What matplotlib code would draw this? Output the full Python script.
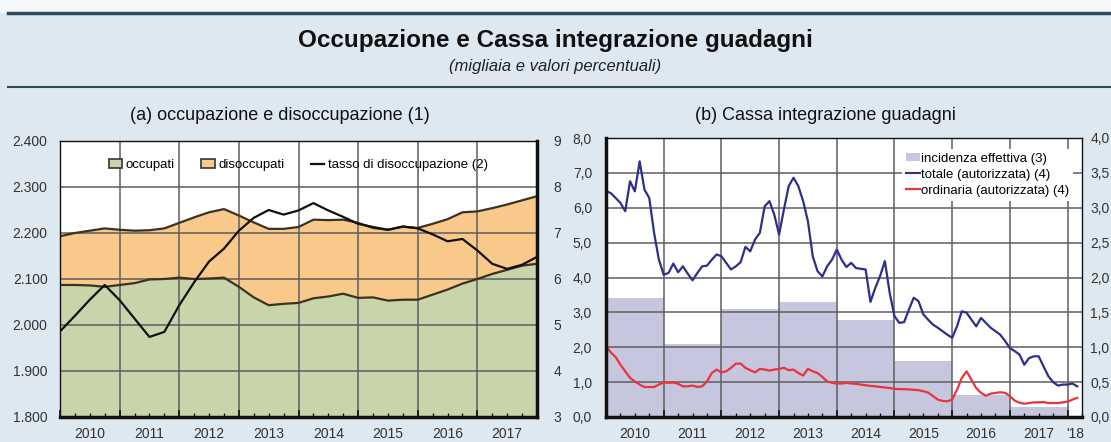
import numpy as np
import matplotlib
matplotlib.use('Agg')
import matplotlib.pyplot as plt
from matplotlib.patches import Patch, Rectangle
from matplotlib.lines import Line2D

plt.rcParams['font.family'] = ['Liberation Sans', 'DejaVu Sans']

# (a) quarterly, Q4 2009 .. Q4 2017 (thousands / %)
occupati = [2087, 2087, 2086, 2083, 2087, 2091, 2099, 2100, 2103, 2100, 2101,
            2103, 2083, 2060, 2043, 2046, 2048, 2058, 2062, 2068, 2059, 2060,
            2053, 2055, 2055, 2066, 2077, 2090, 2100, 2111, 2120, 2129, 2133]
disoccupati = [106, 113, 119, 127, 120, 114, 107, 110, 119, 134, 144, 149,
               155, 163, 166, 163, 165, 171, 166, 161, 163, 151, 154, 159,
               156, 154, 153, 155, 147, 143, 142, 142, 147]
tasso = [4.86, 5.2, 5.55, 5.87, 5.54, 5.14, 4.74, 4.85, 5.43, 5.93, 6.38,
         6.66, 7.05, 7.33, 7.5, 7.4, 7.49, 7.65, 7.49, 7.35, 7.2, 7.13, 7.07,
         7.14, 7.1, 6.97, 6.82, 6.87, 6.62, 6.33, 6.22, 6.31, 6.48]

# (b) monthly, Jan 2010 .. Mar 2018
totale = [6.48, 6.42, 6.28, 6.14, 5.9, 6.76, 6.47, 7.33, 6.52, 6.28,
          5.28, 4.51, 4.08, 4.13, 4.4, 4.15, 4.32, 4.11, 3.92, 4.13,
          4.32, 4.34, 4.51, 4.66, 4.61, 4.42, 4.23, 4.32, 4.44, 4.88,
          4.75, 5.09, 5.28, 6.04, 6.19, 5.8, 5.23, 5.95, 6.62, 6.86,
          6.62, 6.19, 5.61, 4.61, 4.18, 4.03, 4.32, 4.51, 4.8, 4.51,
          4.3, 4.42, 4.27, 4.25, 4.23, 3.3, 3.7, 4.04, 4.47, 3.56,
          2.89, 2.7, 2.72, 3.08, 3.42, 3.32, 2.94, 2.79, 2.65, 2.56,
          2.46, 2.36, 2.27, 2.6, 3.03, 2.99, 2.79, 2.6, 2.84, 2.7,
          2.56, 2.46, 2.36, 2.18, 1.98, 1.89, 1.79, 1.5, 1.69, 1.74,
          1.74, 1.45, 1.17, 1.0, 0.9, 0.93, 0.93, 0.96, 0.88]
ordinaria = [2.03, 1.85, 1.72, 1.5, 1.31, 1.12, 1.02, 0.93, 0.86, 0.86,
             0.86, 0.93, 0.99, 0.98, 0.99, 0.95, 0.88, 0.88, 0.9, 0.86,
             0.88, 1.02, 1.26, 1.36, 1.28, 1.31, 1.41, 1.53, 1.53, 1.41,
             1.34, 1.28, 1.38, 1.36, 1.33, 1.36, 1.38, 1.41, 1.34, 1.36,
             1.26, 1.19, 1.38, 1.31, 1.26, 1.15, 1.02, 0.98, 0.96, 0.96,
             0.98, 0.96, 0.95, 0.93, 0.91, 0.89, 0.88, 0.86, 0.85, 0.83,
             0.81, 0.8, 0.8, 0.79, 0.78, 0.77, 0.74, 0.7, 0.6, 0.5,
             0.46, 0.45, 0.5, 0.78, 1.12, 1.31, 1.07, 0.83, 0.69, 0.61,
             0.67, 0.69, 0.71, 0.69, 0.6, 0.47, 0.41, 0.38, 0.4, 0.42,
             0.42, 0.43, 0.4, 0.4, 0.4, 0.42, 0.44, 0.5, 0.55]
anni_barre = [2010, 2011, 2012, 2013, 2014, 2015, 2016, 2017]
incidenza = [1.71, 1.05, 1.55, 1.65, 1.39, 0.8, 0.32, 0.14]

yl_a = ['1.800', '1.900', '2.000', '2.100', '2.200', '2.300', '2.400']
yr_a = ['3', '4', '5', '6', '7', '8', '9']
yl_b = ['0,0', '1,0', '2,0', '3,0', '4,0', '5,0', '6,0', '7,0', '8,0']
yr_b = ['0,0', '0,5', '1,0', '1,5', '2,0', '2,5', '3,0', '3,5', '4,0']
xl_a = ['2010', '2011', '2012', '2013', '2014', '2015', '2016', '2017']
xl_b = ['2010', '2011', '2012', '2013', '2014', '2015', '2016', '2017', "'18"]

BG = '#dde8f1'
GREEN = '#c8d5aa'
ORANGE = '#f8c98b'
EDGE = '#3b3222'
LAV = '#c6c6de'
BLUE = '#2e2e8c'
RED = '#e8343f'
GRID = '#5e5e5e'
TXT = '#333333'
W, H = 1111, 442

quarters = 2010 + np.arange(len(occupati)) * 0.25
months = 2010 + np.arange(len(totale)) / 12
occ = np.array(occupati)
top = occ + np.array(disoccupati)

fig = plt.figure(figsize=(W / 100, H / 100), dpi=100)
fig.patch.set_facecolor(BG)
fig.add_artist(Rectangle((0, 1 - 12 / H), 1, 12 / H, transform=fig.transFigure,
                         color='#f6f9fb', zorder=0))
fig.add_artist(Line2D([8 / W, 1], [1 - 13 / H] * 2, color='#2f4c5e', lw=2.5))
fig.add_artist(Line2D([8 / W, 1], [1 - 87 / H] * 2, color='#2f4c5e', lw=1.5))
fig.text(0.5, 1 - 40 / H, 'Occupazione e Cassa integrazione guadagni',
         ha='center', va='center', fontsize=17.5, fontweight='bold', color='#111')
fig.text(0.5, 1 - 66 / H, '(migliaia e valori percentuali)', ha='center',
         va='center', fontsize=12, style='italic', color='#222')


def style_x(ax, xmax, labels, pos):
    ax.set_xlim(2010, xmax)
    ax.set_xticks(range(2010, 2019))
    ax.set_xticks(np.arange(2010, xmax + 0.01, 0.25), minor=True)
    ax.tick_params(axis='x', which='both', direction='in', labelbottom=False,
                   color='#111')
    ax.tick_params(axis='x', which='major', length=5, width=1.2)
    ax.tick_params(axis='x', which='minor', length=3, width=1)
    sec = ax.secondary_xaxis('bottom')
    sec.set_xticks(pos, labels=labels)
    sec.tick_params(length=0, pad=7, labelsize=10, labelcolor=TXT)
    sec.spines['bottom'].set_visible(False)


# ---- (a) occupazione e disoccupazione
ax1 = fig.add_axes([60 / W, 25 / H, 477 / W, 276 / H])
ax1.set_facecolor('white')
ax1.fill_between(quarters, 1800, occ, color=GREEN, lw=0)
ax1.fill_between(quarters, occ, top, color=ORANGE, lw=0)
ax1.plot(quarters, occ, color=EDGE, lw=1.6)
ax1.plot(quarters, top, color=EDGE, lw=1.6)
ax1.set_ylim(1800, 2400)
ax1.set_yticks(np.arange(1800, 2401, 100), labels=yl_a)
ax1.tick_params(axis='y', length=0, pad=9, labelsize=10, labelcolor=TXT)
ax1.grid(True, color=GRID, lw=1.1)
style_x(ax1, 2018, xl_a, np.arange(2010, 2018) + 0.5)
for s, lw in [('bottom', 2.5), ('right', 2.5), ('top', 1), ('left', 1)]:
    ax1.spines[s].set_linewidth(lw)
    ax1.spines[s].set_color('#111')

ax1b = ax1.twinx()
ax1b.plot(quarters, tasso, color='#111', lw=1.6)
ax1b.set_ylim(3, 9)
ax1b.set_yticks(range(3, 10), labels=yr_a)
ax1b.tick_params(axis='y', length=0, pad=12, labelsize=10, labelcolor=TXT)
for s in ax1b.spines.values():
    s.set_visible(False)
h_a = [Patch(fc=GREEN, ec='#333', lw=1.2), Patch(fc=ORANGE, ec='#333', lw=1.2),
       Line2D([], [], color='#111', lw=1.6)]
ax1b.legend(h_a, ['occupati', 'disoccupati', 'tasso di disoccupazione (2)'],
            ncol=3, loc='center', bbox_to_anchor=(0.5, 0.913), frameon=False,
            fontsize=9.5, handlelength=1.0, handleheight=0.6, handletextpad=0.3,
            columnspacing=2.0)
fig.text(280 / W, 1 - 116 / H, '(a) occupazione e disoccupazione (1)',
         ha='center', va='center', fontsize=13, color='#111')

# ---- (b) Cassa integrazione guadagni
ax2 = fig.add_axes([606 / W, 25 / H, 476 / W, 279 / H])
ax2b = ax2.twinx()
ax2b.bar(anni_barre, incidenza, width=1, align='edge', color=LAV, lw=0)
ax2b.set_ylim(0, 4)
ax2b.set_yticks(np.arange(0, 4.01, 0.5), labels=yr_b)
ax2b.tick_params(axis='y', length=0, pad=6, labelsize=10, labelcolor=TXT)
ax2b.patch.set_visible(True)
ax2b.patch.set_facecolor('white')
for s in ax2b.spines.values():
    s.set_visible(False)
ax2.set_zorder(ax2b.get_zorder() + 1)
ax2.patch.set_visible(False)

ax2.plot(months, totale, color=BLUE, lw=1.6)
ax2.plot(months, ordinaria, color=RED, lw=1.6)
ax2.set_ylim(0, 8)
ax2.set_yticks(range(0, 9), labels=yl_b)
ax2.tick_params(axis='y', length=0, pad=10, labelsize=10, labelcolor=TXT)
ax2.grid(True, color=GRID, lw=1.1)
style_x(ax2, 2018.25, xl_b, list(np.arange(2010, 2018) + 0.5) + [2018.125])
for s, lw in [('bottom', 2.5), ('left', 2.5), ('top', 1), ('right', 1)]:
    ax2.spines[s].set_linewidth(lw)
    ax2.spines[s].set_color('#111')
h_b = [Patch(fc=LAV, lw=0), Line2D([], [], color=BLUE, lw=1.5),
       Line2D([], [], color=RED, lw=1.6)]
leg = ax2.legend(h_b, ['incidenza effettiva (3)', 'totale (autorizzata) (4)',
                       'ordinaria (autorizzata) (4)'],
                 loc='upper right', bbox_to_anchor=(0.995, 0.985), frameon=True,
                 fancybox=False, framealpha=1, facecolor='white', edgecolor='none',
                 fontsize=9.5, handlelength=1.0, handleheight=0.6,
                 handletextpad=0.1, labelspacing=0.3, borderpad=0.3)
fig.text(825 / W, 1 - 116 / H, '(b) Cassa integrazione guadagni',
         ha='center', va='center', fontsize=13, color='#111')

fig.savefig('out.png', dpi=100, facecolor=BG)
